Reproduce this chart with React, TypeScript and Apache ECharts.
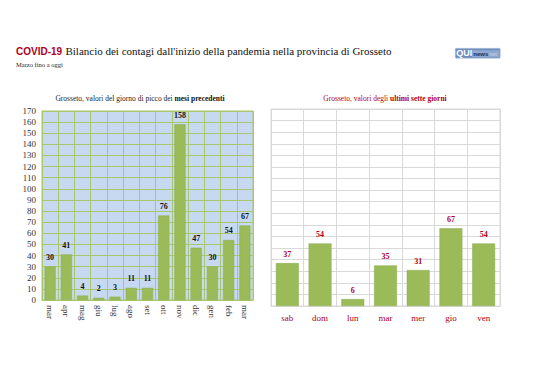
import React, { useEffect, useRef } from "react";
import * as echarts from "echarts";

const monthCats = ["mar", "apr", "mag", "giu", "lug", "ago", "set", "ott", "nov", "dic", "gen", "feb", "mar"];
const monthVals = [30, 41, 4, 2, 3, 11, 11, 76, 158, 47, 30, 54, 67];
const dayCats = ["sab", "dom", "lun", "mar", "mer", "gio", "ven"];
const dayVals = [37, 54, 6, 35, 31, 67, 54];
const yMax = 170;
const yInterval = 10;

const SERIF = "'Liberation Serif', 'DejaVu Serif', serif";
const SANS = "'Liberation Sans', Arial, sans-serif";
const RED = "#b00020";
const GREEN = "#9bbb59";

export default function App() {
  const ref = useRef<HTMLDivElement>(null);
  useEffect(() => {
    document.body.style.margin = "0";
    const chart = echarts.init(ref.current!, null, { renderer: "svg" });
    chart.setOption({
      animation: false,
      backgroundColor: "#ffffff",
      grid: [
        { left: 42, top: 111, width: 211, height: 189, show: true, backgroundColor: "#c6d9f1", borderColor: "#a9c76c", borderWidth: 1 },
        { left: 271, top: 109, width: 229, height: 197, show: true, backgroundColor: "#ffffff", borderColor: "#d9d9d9", borderWidth: 1 },
      ],
      xAxis: [
        {
          gridIndex: 0, type: "category", data: monthCats,
          axisLine: { show: true, lineStyle: { color: "#a9c76c" } }, axisTick: { show: false },
          splitLine: { show: true, lineStyle: { color: "#a9c76c", width: 1 } },
          axisLabel: { rotate: -90, fontFamily: SERIF, fontSize: 9, color: "#333", margin: 5 },
        },
        {
          gridIndex: 1, type: "category", data: dayCats,
          axisLine: { show: true, lineStyle: { color: "#d9d9d9" } }, axisTick: { show: false },
          splitLine: { show: true, lineStyle: { color: "#d9d9d9", width: 1 } },
          axisLabel: { fontFamily: SERIF, fontSize: 9, color: RED, margin: 7 },
        },
      ],
      yAxis: [
        {
          gridIndex: 0, type: "value", min: 0, max: yMax, interval: yInterval,
          axisLine: { show: false }, axisTick: { show: false },
          splitLine: { show: true, lineStyle: { color: "#a9c76c", width: 1 } },
          axisLabel: { fontFamily: SERIF, fontSize: 9, color: "#333", margin: 6 },
        },
        {
          gridIndex: 1, type: "value", min: 0, max: yMax, interval: yInterval,
          axisLine: { show: false }, axisTick: { show: false },
          splitLine: { show: true, lineStyle: { color: "#d9d9d9", width: 1 } },
          axisLabel: { show: false },
        },
      ],
      series: [
        {
          type: "bar", xAxisIndex: 0, yAxisIndex: 0, data: monthVals, barCategoryGap: "32%",
          itemStyle: { color: GREEN, borderColor: "#8aab4c", borderWidth: 0.5 },
          label: { show: true, position: "top", distance: 5, fontFamily: SERIF, fontWeight: "bold", fontSize: 8, color: "#111" },
        },
        {
          type: "bar", xAxisIndex: 1, yAxisIndex: 1, data: dayVals, barCategoryGap: "30%",
          itemStyle: { color: GREEN, borderColor: "#8aab4c", borderWidth: 0.5 },
          label: { show: true, position: "top", distance: 5, fontFamily: SERIF, fontWeight: "bold", fontSize: 8, color: RED },
        },
      ],
      graphic: [
        {
          type: "text", left: 16, top: 45,
          style: {
            text: "{a|COVID-19} {b|Bilancio dei contagi dall'inizio della pandemia nella provincia di Grosseto}",
            rich: {
              a: { fontFamily: SANS, fontWeight: "bold", fontSize: 10, fill: RED },
              b: { fontFamily: SERIF, fontSize: 11, fill: "#111" },
            },
          },
        },
        {
          type: "text", left: 16, top: 61,
          style: { text: "Marzo fino a oggi", fontFamily: SERIF, fontSize: 6.5, fill: "#222" },
        },
        {
          type: "text", x: 140, y: 98,
          style: {
            text: "{n|Grosseto, valori del giorno di picco dei }{b|mesi precedenti}",
            align: "center", verticalAlign: "middle",
            rich: {
              n: { fontFamily: SERIF, fontSize: 7.5, fill: "#222" },
              b: { fontFamily: SERIF, fontSize: 7.5, fontWeight: "bold", fill: "#111" },
            },
          },
        },
        {
          type: "text", x: 385, y: 98,
          style: {
            text: "{n|Grosseto, valori degli }{b|ultimi sette giorni}",
            align: "center", verticalAlign: "middle",
            rich: {
              n: { fontFamily: SERIF, fontSize: 7.5, fill: RED },
              b: { fontFamily: SERIF, fontSize: 7.5, fontWeight: "bold", fill: RED },
            },
          },
        },
        {
          type: "group", left: 455, top: 48,
          children: [
            { type: "rect", shape: { x: 0, y: 0, width: 45, height: 10, r: 1 }, style: { fill: "#6f8fbf", stroke: "#b8c8e0", lineWidth: 0.5 } },
            { type: "rect", shape: { x: 17, y: 2, width: 27, height: 7 }, style: { fill: "#8ea8d0" } },
            { type: "text", x: 1, y: 5, style: { text: "QUI", fontFamily: SANS, fontWeight: "bold", fontSize: 9, fill: "#ffffff", verticalAlign: "middle" } },
            { type: "text", x: 18, y: 6, style: { text: "news", fontFamily: SANS, fontWeight: "bold", fontSize: 6, fill: "#1f2f55", verticalAlign: "middle" } },
            { type: "text", x: 34, y: 6, style: { text: "net", fontFamily: SANS, fontSize: 5.5, fill: "#c9d8ee", verticalAlign: "middle" } },
          ],
        },
      ],
    });
    return () => chart.dispose();
  }, []);
  return <div ref={ref} style={{ width: 538, height: 380 }} />;
}
